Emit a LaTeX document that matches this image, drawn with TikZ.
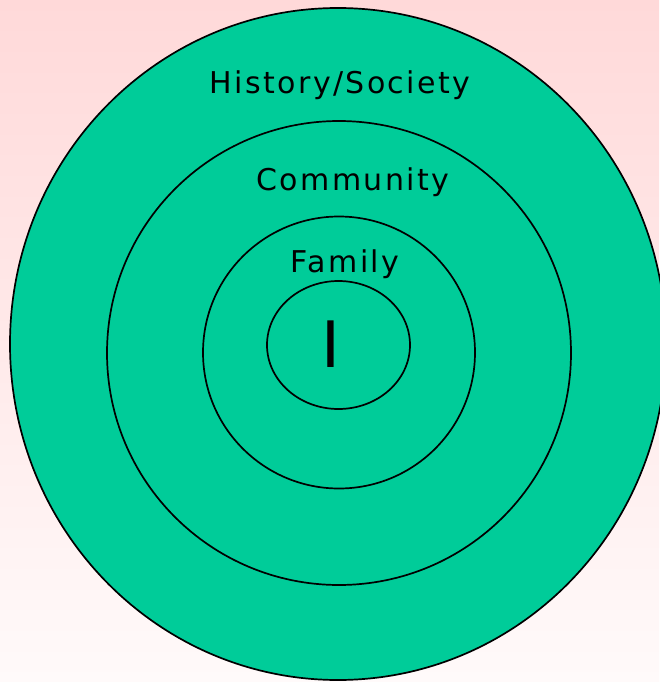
\documentclass[tikz,border=0pt]{standalone}
\usepackage{fontspec}
\setmainfont{DejaVu Sans}
\definecolor{bgtop}{HTML}{FFD9D9}
\definecolor{bgbot}{HTML}{FFFAFA}
\definecolor{ringgreen}{HTML}{00CC99}
\begin{document}
\begin{tikzpicture}[x=1pt,y=-1pt,
  ring/.style={draw=black,line width=1.7pt,fill=ringgreen},
  lbl/.style={font=\fontsize{30}{34}\selectfont\addfontfeature{LetterSpace=8},text=black,inner sep=0pt}]
\useasboundingbox (0,0) rectangle (659,682);
\shade[top color=bgtop,bottom color=bgbot] (0,0) rectangle (659,682);
\draw[ring] (338,344) ellipse [x radius=328, y radius=336];
\draw[ring] (339,353) circle [radius=232];
\draw[ring] (339,352.5) circle [radius=136];
\draw[ring] (338.5,345) ellipse [x radius=71.5, y radius=64];
\node[lbl] (hist) at (340,85) {History/Society};
\node[lbl] (comm) at (353,182) {Community};
\node[lbl] (fam) at (345,264) {Family};
\node[font=\fontsize{64}{70}\selectfont,inner sep=0pt] (me) at (331,344) {I};
\end{tikzpicture}
\end{document}
